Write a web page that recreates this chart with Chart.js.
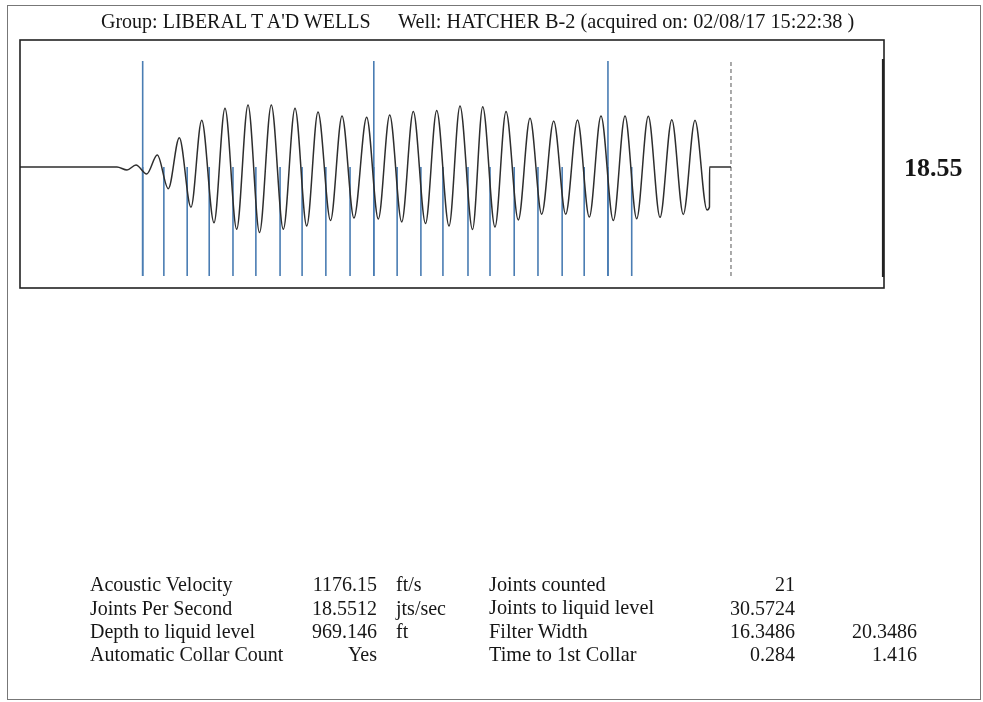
<!DOCTYPE html>
<html>
<head>
<meta charset="utf-8">
<script src="https://cdn.jsdelivr.net/npm/chart.js@4.4.1/dist/chart.umd.min.js"></script>
<style>
  html, body { margin: 0; padding: 0; background: #ffffff; }
  body { width: 983px; height: 702px; position: relative; overflow: hidden;
         font-family: "Liberation Serif", "Times New Roman", serif; color: #161616; }
  #frame { position: absolute; left: 7px; top: 5px; width: 974px; height: 695px;
           border: 1px solid #777; box-sizing: border-box; }
  canvas { position: absolute; left: 0; top: 0; }
  .t { position: absolute; white-space: nowrap; line-height: 1; }
  .r { text-align: right; }
</style>
</head>
<body>
<div id="frame"></div>
<canvas id="c" width="983" height="702"></canvas>
<div id="texts"></div>
<script>
// ---- Data ----
// Waveform extrema (time in s, amplitude in arbitrary units)
const waveTimes = [0, 0.2245, 0.2477, 0.2685, 0.2933, 0.3178, 0.3433, 0.3688, 0.3958, 0.4206,
  0.4491, 0.4745, 0.5016, 0.5278, 0.5544, 0.5817, 0.6095, 0.6366, 0.6637, 0.6898,
  0.7188, 0.7454, 0.7731, 0.8025, 0.8294, 0.8558, 0.8836, 0.9104, 0.9387, 0.9646,
  0.9931, 1.0185, 1.0475, 1.0711, 1.0995, 1.1250, 1.1535, 1.1806, 1.2076, 1.2354,
  1.2632, 1.2905, 1.3178, 1.3449, 1.3734, 1.4005, 1.4275, 1.4544, 1.4815, 1.5088,
  1.5354, 1.5625, 1.5903, 1.5960, 1.5962, 1.6458];
const waveValues = [0, 0, -0.03, 0.02, -0.07, 0.12, -0.217, 0.293, -0.403, 0.467,
  -0.557, 0.587, -0.623, 0.62, -0.655, 0.62, -0.623, 0.587, -0.59, 0.55,
  -0.535, 0.51, -0.51, 0.497, -0.52, 0.52, -0.55, 0.555, -0.565, 0.565,
  -0.59, 0.61, -0.625, 0.603, -0.60, 0.555, -0.53, 0.487, -0.472, 0.46,
  -0.473, 0.47, -0.50, 0.51, -0.535, 0.51, -0.517, 0.507, -0.503, 0.473,
  -0.475, 0.467, -0.43, -0.40, 0, 0];
// Detected collars (s)
const collarTimes = [0.284, 0.333, 0.387, 0.438, 0.493, 0.546, 0.602, 0.653, 0.708, 0.764,
  0.819, 0.873, 0.928, 0.979, 1.037, 1.088, 1.144, 1.199, 1.255, 1.306, 1.361, 1.416];
// Collars drawn with full-height markers (s)
const markerTimes = [0.284, 0.819, 1.361];
// Liquid level marker (s)
const liquidLevelTime = [1.6458];
// Marker extents (amplitude units)
const markerTop = 1.06;
const markerBottom = -1.09;
const collarTop = 0;

// Axis ranges
const xRange = [0, 2];
const yRange = [-1.21, 1.27];

// Text
const titleParts = ["Group: LIBERAL T A'D WELLS", "Well: HATCHER B-2 (acquired on: 02/08/17 15:22:38 )"];
const jointsPerSecondLabel = "18.55";
const leftLabels = ["Acoustic Velocity", "Joints Per Second", "Depth to liquid level", "Automatic Collar Count"];
const leftValues = ["1176.15", "18.5512", "969.146", "Yes"];
const leftUnits = ["ft/s", "jts/sec", "ft", ""];
const rightLabels = ["Joints counted", "Joints to liquid level", "Filter Width", "Time to 1st Collar"];
const rightValues = ["21", "30.5724", "16.3486", "0.284"];
const rightValues2 = ["", "", "20.3486", "1.416"];

// ---- Build chart ----
function verticalSegments(times, lo, hi) {
  const out = [];
  times.forEach(t => { out.push({x: t, y: lo}, {x: t, y: hi}, {x: t, y: null}); });
  return out;
}

const wave = waveTimes.map((t, i) => ({x: t, y: waveValues[i]}));

const boxPlugin = {
  id: 'box',
  afterDraw(chart) {
    const {ctx, chartArea: a} = chart;
    ctx.save();
    ctx.strokeStyle = '#222';
    ctx.lineWidth = 1.6;
    ctx.strokeRect(a.left, a.top, a.right - a.left, a.bottom - a.top);
    // heavier inner right edge
    const ys = chart.scales.y;
    ctx.lineWidth = 2.2;
    ctx.beginPath();
    ctx.moveTo(a.right - 1, ys.getPixelForValue(1.08));
    ctx.lineTo(a.right - 1, ys.getPixelForValue(-1.10));
    ctx.stroke();
    ctx.restore();
  }
};

new Chart(document.getElementById('c'), {
  type: 'line',
  data: {
    datasets: [
      { label: 'collars', data: verticalSegments(collarTimes, markerBottom, collarTop),
        borderColor: '#4a7db3', borderWidth: 1.6, pointRadius: 0, tension: 0, spanGaps: false, order: 2 },
      { label: 'markers', data: verticalSegments(markerTimes, markerBottom, markerTop),
        borderColor: '#4a7db3', borderWidth: 1.6, pointRadius: 0, tension: 0, spanGaps: false, order: 2 },
      { label: 'liquid', data: verticalSegments(liquidLevelTime, markerBottom, markerTop),
        borderColor: '#555', borderWidth: 1, borderDash: [4, 3], pointRadius: 0, tension: 0, spanGaps: false, order: 3 },
      { label: 'wave', data: wave, borderColor: '#2e2e2e', borderWidth: 1.5, pointRadius: 0,
        cubicInterpolationMode: 'monotone', order: 1 }
    ]
  },
  options: {
    responsive: false,
    animation: false,
    devicePixelRatio: 1,
    layout: { padding: { left: 20, top: 40, right: 99, bottom: 414 } },
    plugins: { legend: { display: false }, tooltip: { enabled: false }, title: { display: false } },
    scales: {
      x: { type: 'linear', display: false, min: xRange[0], max: xRange[1] },
      y: { type: 'linear', display: false, min: yRange[0], max: yRange[1] }
    }
  },
  plugins: [boxPlugin]
});

// ---- Text ----
const texts = document.getElementById('texts');
function addText(str, opts) {
  const d = document.createElement('div');
  d.className = 't' + (opts.right !== undefined ? ' r' : '');
  d.textContent = str;
  const fs = opts.fs;
  d.style.fontSize = fs + 'px';
  if (opts.bold) d.style.fontWeight = 'bold';
  d.style.top = (opts.baseline - 0.8375 * fs) + 'px';
  if (opts.right !== undefined) d.style.right = (983 - opts.right) + 'px';
  else d.style.left = opts.left + 'px';
  texts.appendChild(d);
}
addText(titleParts[0], {left: 101, baseline: 28, fs: 20});
addText(titleParts[1], {left: 398, baseline: 28, fs: 20.3});
addText(jointsPerSecondLabel, {left: 904, baseline: 176.5, fs: 26, bold: true});
const rowBase = [590.7, 614.3, 637.7, 661];
rowBase.forEach((b, i) => {
  addText(leftLabels[i], {left: 90, baseline: b, fs: 20});
  addText(leftValues[i], {right: 377, baseline: b, fs: 20});
  if (leftUnits[i]) addText(leftUnits[i], {left: 396, baseline: b, fs: 20});
  addText(rightLabels[i], {left: 489, baseline: b, fs: 20.3});
  if (rightValues[i]) addText(rightValues[i], {right: 795, baseline: b, fs: 20});
  if (rightValues2[i]) addText(rightValues2[i], {right: 917, baseline: b, fs: 20});
});
</script>
</body>
</html>
